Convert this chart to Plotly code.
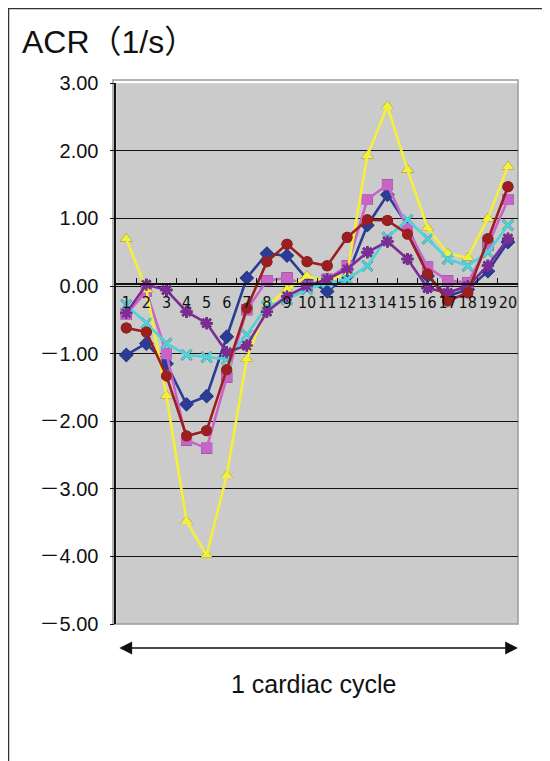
import plotly.graph_objects as go

categories = [str(i) for i in range(1, 21)]

blue = [-1.02, -0.85, -1.15, -1.75, -1.63, -0.75, 0.12, 0.48, 0.45, 0.1, -0.08, 0.15, 0.9, 1.35, 0.9, 0.15, -0.15, -0.05, 0.22, 0.65]
magenta = [-0.42, -0.08, -1.0, -2.28, -2.4, -1.35, -0.35, 0.08, 0.12, 0.0, 0.1, 0.3, 1.28, 1.5, 0.85, 0.28, 0.08, 0.05, 0.6, 1.28]
yellow = [0.7, -0.05, -1.62, -3.48, -3.98, -2.8, -1.08, -0.3, -0.05, 0.15, 0.05, 0.2, 1.93, 2.66, 1.72, 0.86, 0.48, 0.42, 1.0, 1.77]
cyan = [-0.28, -0.55, -0.85, -1.02, -1.05, -1.08, -0.72, -0.3, -0.2, -0.05, 0.05, 0.1, 0.3, 0.72, 0.98, 0.7, 0.4, 0.3, 0.5, 0.9]
purple = [-0.4, 0.02, -0.06, -0.38, -0.55, -0.98, -0.88, -0.38, -0.15, 0.0, 0.1, 0.25, 0.5, 0.66, 0.4, -0.03, -0.1, 0.0, 0.3, 0.7]
red = [-0.62, -0.68, -1.33, -2.22, -2.14, -1.24, -0.33, 0.36, 0.62, 0.36, 0.3, 0.72, 0.98, 0.97, 0.77, 0.18, -0.22, -0.1, 0.7, 1.47]

ytick_vals = [3, 2, 1, 0, -1, -2, -3, -4, -5]
ytick_text = ["3.00", "2.00", "1.00", "0.00", "\uff0d1.00", "\uff0d2.00", "\uff0d3.00", "\uff0d4.00", "\uff0d5.00"]

series = [
    (blue, "#2a3c96", "diamond", 11, 0),
    (magenta, "#c864c8", "square", 11, 0),
    (yellow, "#f4f03a", "triangle-up", 11, 0),
    (cyan, "#4fd3d9", "x-thin-open", 10, 2.5),
    (purple, "#7d2c96", "asterisk-open", 10, 2.5),
    (red, "#9c1e1e", "circle", 11, 0),
]

fig = go.Figure()

# marker shadows (base axes, offset a few pixels right/down)
for vals, col, sym, sz, lw in series:
    fig.add_trace(go.Scatter(
        x=categories, y=vals, mode="markers", xaxis="x", yaxis="y",
        marker=dict(symbol=sym, size=sz, color="#111111",
                    line=dict(color="#111111", width=lw)),
        hoverinfo="skip", showlegend=False))

# main series on overlay axes
for vals, col, sym, sz, lw in series:
    fig.add_trace(go.Scatter(
        x=categories, y=vals, mode="lines+markers", xaxis="x2", yaxis="y2",
        line=dict(color=col, width=2.6),
        marker=dict(symbol=sym, size=sz, color=col,
                    line=dict(color=col, width=lw)),
        showlegend=False))

zero_pos = (3 - 0) / 8.0

# page body has an 8px margin: figure is 542x753, offset by 8px
fig.update_layout(
    width=542, height=753,
    margin=dict(l=105, r=32, t=72, b=137),
    paper_bgcolor="white",
    plot_bgcolor="#cbcbcb",
    font=dict(family="Liberation Sans, Arial, sans-serif", color="#111111"),
    xaxis=dict(
        type="category", range=[-0.5, 19.5], domain=[0.008, 1.0],
        anchor="free", position=1 - zero_pos,
        showline=True, linecolor="#111111", linewidth=1.5,
        ticks="inside", ticklen=5, tickcolor="#111111", tickwidth=1.2,
        tickson="boundaries", showgrid=False, tickangle=0,
        tickfont=dict(size=16, family="Liberation Sans Narrow, DejaVu Sans Condensed, Arial"),
        ticklabelstandoff=4,
    ),
    yaxis=dict(
        range=[-5, 3], domain=[0.0, 0.994],
        tickvals=ytick_vals, ticktext=ytick_text,
        showgrid=True, gridcolor="#111111", gridwidth=1.3,
        zeroline=False,
        showline=True, linecolor="#111111", linewidth=1.5,
        ticks="outside", ticklen=4, tickcolor="#111111",
        tickfont=dict(size=20, family="Liberation Sans, Noto Sans CJK JP"),
        ticklabelstandoff=8,
    ),
    xaxis2=dict(type="category", range=[-0.5, 19.5], domain=[0.0, 0.992],
                overlaying="x", anchor="y2", visible=False),
    yaxis2=dict(range=[-5, 3], domain=[0.006, 1.0], overlaying="y",
                anchor="x2", visible=False),
    shapes=[
        dict(type="rect", xref="paper", yref="paper", x0=0, x1=1, y0=0, y1=1,
             line=dict(color="#9a9a9a", width=1.5), layer="below"),
        dict(type="line", xref="paper", yref="paper",
             x0=(8 - 113) / 405, x1=(560 - 113) / 405,
             y0=(624 - 8) / 544, y1=(624 - 8) / 544,
             line=dict(color="#333333", width=2.5)),
        dict(type="line", xref="paper", yref="paper",
             x0=(8 - 113) / 405, x1=(8 - 113) / 405,
             y0=(624 - 8) / 544, y1=(624 - 770) / 544,
             line=dict(color="#333333", width=2.5)),
    ],
    annotations=[
        dict(text="ACR（1/s）", xref="paper", yref="paper",
             x=(20 - 113) / 405, y=(624 - 42) / 544,
             xanchor="left", yanchor="middle", showarrow=False,
             font=dict(size=32, family="Liberation Sans, Noto Sans CJK JP, Arial", color="#111111")),
        dict(text="", xref="x domain", yref="y domain",
             x=1.0, y=(624 - 648) / 544 / 0.994,
             axref="x domain", ayref="y domain",
             ax=0.004, ay=(624 - 648) / 544 / 0.994,
             showarrow=True, arrowside="end+start",
             arrowhead=2, startarrowhead=2, arrowsize=1.6, startarrowsize=1.6,
             arrowwidth=1.6, arrowcolor="#111111"),
        dict(text="1 cardiac cycle", xref="paper", yref="paper",
             x=(313 - 113) / 405, y=(624 - 684) / 544,
             xanchor="center", yanchor="middle", showarrow=False,
             font=dict(size=25, color="#111111")),
    ],
)

fig.write_html("out.html")
